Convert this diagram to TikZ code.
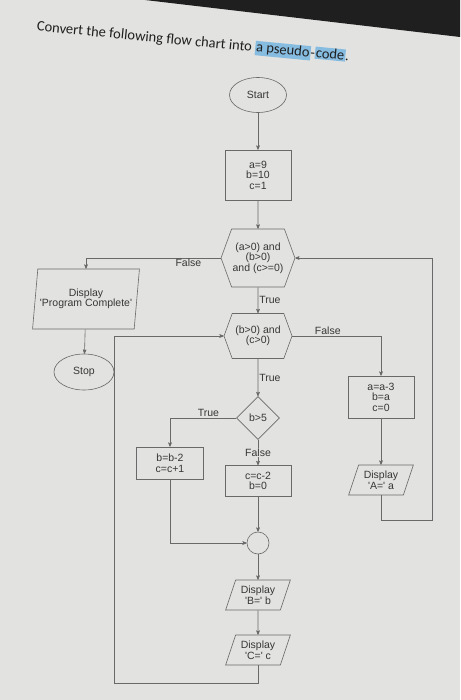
\documentclass[tikz,border=0pt]{standalone}
\usepackage{fontspec}
\setmainfont{Liberation Sans}
\newfontfamily\titlefont{Carlito}
\usetikzlibrary{arrows,shapes.geometric,shapes.symbols}
\definecolor{paper}{RGB}{226,226,224}
\definecolor{edge}{RGB}{105,105,105}
\definecolor{ink}{RGB}{55,55,55}
\definecolor{hilite}{RGB}{135,188,225}
\setlength{\fboxsep}{1pt}

\tikzset{
  base/.style={draw=edge, line width=0.6pt, text=ink, align=center, inner sep=1pt,
    font=\fontsize{10.5}{10.5}\selectfont},
  terminal/.style={base, ellipse, minimum width=57, minimum height=35},
  process/.style={base, rectangle, minimum width=66},
  decide/.style={base, signal, signal to=east and west, signal pointer angle=140,
    minimum width=68},
  choice/.style={base, diamond, minimum width=43, minimum height=43, inner sep=0pt},
  output/.style={base, trapezium, trapezium left angle=68, trapezium right angle=112,
    trapezium stretches, minimum width=65, minimum height=30},
  joint/.style={base, circle, minimum size=22},
  lbl/.style={text=ink, font=\fontsize{10.5}{10.5}\selectfont, inner sep=1pt},
  wire/.style={draw=edge, line width=0.6pt}
}

\begin{document}
\begin{tikzpicture}[x=1pt,y=-1pt,>=stealth']
%%%PAGE
\fill[paper] (0,0) rectangle (460,700);
\useasboundingbox (0,0) rectangle (460,700);
\fill[black!88] (145,0) -- (460,0) -- (460,37) -- cycle;
\node[rotate=-5.5, text=black!88, font=\titlefont\fontsize{14.5}{16}\selectfont] (title) at (193,42)
  {Convert the following flow chart into \colorbox{hilite}{a pseudo}-\colorbox{hilite}{code}.};

%%%MAIN COLUMN
\node[terminal] (start) at (258,95) {Start};
\node[process, minimum height=50] (init) at (258,175) {a=9\\b=10\\c=1};
\node[decide, minimum height=58] (hex1) at (258,258) {(a>0) and\\(b>0)\\and (c>=0)};
\node[decide, minimum height=45] (hex2) at (258,336) {(b>0) and\\(c>0)};
\node[choice] (dia) at (258,418) {b>5};
\node[process, minimum height=31] (boxF) at (258,481) {c=c-2\\b=0};
\node[process, minimum height=32, minimum width=67] (boxT) at (170,463) {b=b-2\\c=c+1};
\node[joint] (join) at (258,543) {};
\node[output] (dispB) at (258,595) {Display\\\textquotesingle B=\textquotesingle\ b};
\node[output] (dispC) at (258,650) {Display\\\textquotesingle C=\textquotesingle\ c};

%%%SIDE BRANCHES
\node[output, minimum height=60, minimum width=107, trapezium left angle=77, trapezium right angle=103] (dispPC) at (86,299)
  {Display\\\textquotesingle Program Complete\textquotesingle};
\node[terminal, minimum width=60, minimum height=36] (stop) at (84,372) {Stop};
\node[process, minimum height=42] (boxA) at (381,397) {a=a-3\\b=a\\c=0};
\node[output] (dispA) at (381,480) {Display\\\textquotesingle A=\textquotesingle\ a};
\coordinate (lowL) at (114,683);
\coordinate (lowR) at (432,520);

%%%CONNECTORS
\draw[wire,->] (start) -- (init);
\draw[wire,->] (init) -- (hex1);
\draw[wire,->] (hex1) -- node[lbl, right] {True} (hex2);
\draw[wire,->] (hex2) -- node[lbl, right] {True} (dia);
\draw[wire,->] (dia) -- node[lbl, fill=paper] {False} (boxF);
\draw[wire,->] (dia.west) -| node[lbl, above, pos=0.21] {True} (boxT);
\draw[wire,->] (boxF) -- (join);
\draw[wire,->] (boxT) |- (join);
\draw[wire,->] (join) -- (dispB);
\draw[wire,->] (dispB) -- (dispC);
\draw[wire,->] (hex1.west) -| node[lbl, below, pos=0.12] {False} (dispPC);
\draw[wire,->] (dispPC) -- (stop);
\draw[wire,->] (hex2.east) -| node[lbl, above, pos=0.2] {False} (boxA);
\draw[wire,->] (boxA) -- (dispA);
\draw[wire,->] (dispC.south) |- (lowL) |- (hex2.west);
\draw[wire,->] (dispA.south) |- (lowR) |- (hex1.east);
\end{tikzpicture}
\end{document}
